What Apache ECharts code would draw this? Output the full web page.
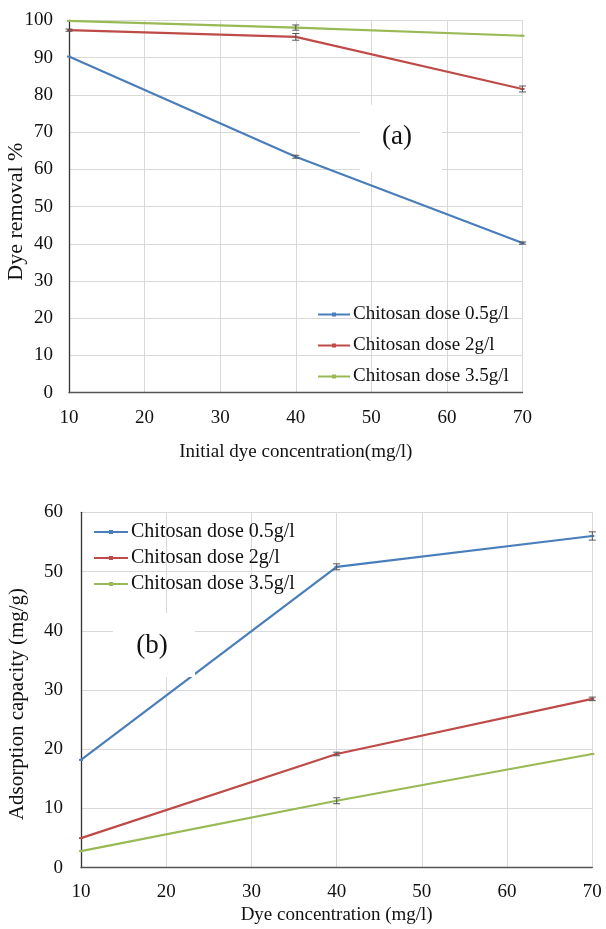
<!DOCTYPE html>
<html>
<head>
<meta charset="utf-8">
<script src="https://cdn.jsdelivr.net/npm/echarts@6/dist/echarts.min.js"></script>
<style>
  html, body { margin: 0; padding: 0; background: #fff; }
  #chart { width: 606px; height: 929px; }
</style>
</head>
<body>
<div id="chart"></div>
<script>
// Dye concentrations (mg/l) shared by both panels
var concentrations = [10, 40, 70];
var seriesNames = ['Chitosan dose 0.5g/l', 'Chitosan dose 2g/l', 'Chitosan dose 3.5g/l'];

// Panel (a): dye removal %
var removalDose05 = [90.3, 63.4, 40.2];
var removalDose2 = [97.4, 95.6, 81.6];
var removalDose35 = [99.9, 98.1, 95.9];
var removalErr05 = [0, 0.4, 0.3];
var removalErr2 = [0.3, 0.9, 0.8];
var removalErr35 = [0, 0.7, 0];

// Panel (b): adsorption capacity (mg/g)
var capacityDose05 = [18.2, 50.8, 56.0];
var capacityDose2 = [5.0, 19.2, 28.5];
var capacityDose35 = [2.8, 11.3, 19.2];
var capacityErr05 = [0, 0.5, 0.7];
var capacityErr2 = [0, 0.3, 0.3];
var capacityErr35 = [0, 0.5, 0];

var xTicksA = { min: 10, max: 70, interval: 10 };
var yTicksA = { min: 0, max: 100, interval: 10 };
var xTicksB = { min: 10, max: 70, interval: 10 };
var yTicksB = { min: 0, max: 60, interval: 10 };

var colors = ['#4a7ebb', '#be4b48', '#98b954'];
var serif = 'Liberation Serif, Times New Roman, serif';

function pairs(values) {
  return concentrations.map(function (x, i) { return [x, values[i]]; });
}
function errPairs(values, errs) {
  return concentrations.map(function (x, i) { return [x, values[i], errs[i]]; });
}

function lineSeries(name, values, gridIndex, color) {
  return {
    name: name,
    type: 'line',
    xAxisIndex: gridIndex,
    yAxisIndex: gridIndex,
    data: pairs(values),
    symbol: 'rect',
    symbolSize: [4, 2],
    lineStyle: { width: 2.2, color: color },
    itemStyle: { color: color },
    z: 3,
    animation: false
  };
}

// Error bars with small caps
function errorSeries(values, errs, gridIndex) {
  return {
    type: 'custom',
    name: 'error' + gridIndex,
    xAxisIndex: gridIndex,
    yAxisIndex: gridIndex,
    data: errPairs(values, errs),
    z: 4,
    silent: true,
    animation: false,
    renderItem: function (params, api) {
      var e = api.value(2);
      if (!e) return null;
      var x = api.value(0), y = api.value(1);
      var hi = api.coord([x, y + e]);
      var lo = api.coord([x, y - e]);
      var cap = 3.5;
      var style = { stroke: '#555', lineWidth: 1 };
      return {
        type: 'group',
        children: [
          { type: 'line', shape: { x1: hi[0], y1: hi[1], x2: lo[0], y2: lo[1] }, style: style },
          { type: 'line', shape: { x1: hi[0] - cap, y1: hi[1], x2: hi[0] + cap, y2: hi[1] }, style: style },
          { type: 'line', shape: { x1: lo[0] - cap, y1: lo[1], x2: lo[0] + cap, y2: lo[1] }, style: style }
        ]
      };
    }
  };
}

function xAxis(gridIndex, ticks, name, nameGap, labelMargin) {
  return {
    type: 'value',
    gridIndex: gridIndex,
    min: ticks.min, max: ticks.max, interval: ticks.interval,
    name: name,
    nameLocation: 'middle',
    nameGap: nameGap,
    nameMoveOverlap: false,
    nameTextStyle: { fontFamily: serif, fontSize: 19, color: '#111' },
    axisLine: { show: true, onZero: false, lineStyle: { color: '#555', width: 1.3 } },
    axisTick: { show: false },
    axisLabel: { fontFamily: serif, fontSize: 19, color: '#111', margin: labelMargin },
    splitLine: { show: true, lineStyle: { color: '#d9d9d9', width: 1 } }
  };
}

function yAxis(gridIndex, ticks, name, nameGap, labelMargin, nameSize, namePad) {
  return {
    type: 'value',
    gridIndex: gridIndex,
    min: ticks.min, max: ticks.max, interval: ticks.interval,
    name: name,
    nameLocation: 'middle',
    nameGap: nameGap,
    nameMoveOverlap: false,
    nameTextStyle: { fontFamily: serif, fontSize: nameSize, color: '#111', padding: [0, namePad, 0, 0] },
    axisLine: { show: true, lineStyle: { color: '#333', width: 1.3 } },
    axisTick: { show: false },
    axisLabel: { fontFamily: serif, fontSize: 19, color: '#111', margin: labelMargin },
    splitLine: { show: true, lineStyle: { color: '#d9d9d9', width: 1 } }
  };
}

var chart = echarts.init(document.getElementById('chart'), null, { renderer: 'canvas' });

chart.setOption({
  backgroundColor: '#fff',
  animation: false,
  grid: [
    { left: 69, right: 83.5, top: 20.5, height: 372.2, outerBoundsMode: 'none', containLabel: false },
    { left: 81, right: 13.7, top: 512.3, height: 355.4, outerBoundsMode: 'none', containLabel: false }
  ],
  xAxis: [
    xAxis(0, xTicksA, 'Initial dye concentration(mg/l)', 50, 16),
    xAxis(1, xTicksB, 'Dye concentration (mg/l)', 38, 15)
  ],
  yAxis: [
    yAxis(0, yTicksA, 'Dye removal %', 42, 16, 22, 10),
    yAxis(1, yTicksB, 'Adsorption capacity (mg/g)', 53, 18, 21, 28)
  ],
  legend: [
    {
      data: seriesNames,
      orient: 'vertical',
      left: 312,
      top: 300,
      itemWidth: 32,
      itemHeight: 5,
      itemGap: 12,
      textStyle: { fontFamily: serif, fontSize: 19, color: '#111', padding: [0, 0, 0, -2] },
      selectedMode: false
    },
    {
      data: seriesNames,
      orient: 'vertical',
      left: 88,
      top: 517,
      itemWidth: 34,
      itemHeight: 5,
      itemGap: 6,
      textStyle: { fontFamily: serif, fontSize: 20, color: '#111', padding: [0, 0, 0, -2] },
      selectedMode: false
    }
  ],
  graphic: [
    { type: 'rect', z: 100, shape: { x: 360, y: 105, width: 82, height: 67 }, style: { fill: '#fff' } },
    { type: 'text', z: 101, x: 397, y: 137, style: { text: '(a)', fontFamily: serif, fontSize: 27, fill: '#111', align: 'center', verticalAlign: 'middle' } },
    { type: 'rect', z: 100, shape: { x: 113, y: 613, width: 82, height: 64 }, style: { fill: '#fff' } },
    { type: 'text', z: 101, x: 152, y: 646, style: { text: '(b)', fontFamily: serif, fontSize: 27, fill: '#111', align: 'center', verticalAlign: 'middle' } }
  ],
  series: [
    lineSeries(seriesNames[0], removalDose05, 0, colors[0]),
    lineSeries(seriesNames[1], removalDose2, 0, colors[1]),
    lineSeries(seriesNames[2], removalDose35, 0, colors[2]),
    errorSeries(removalDose05, removalErr05, 0),
    errorSeries(removalDose2, removalErr2, 0),
    errorSeries(removalDose35, removalErr35, 0),
    lineSeries(seriesNames[0], capacityDose05, 1, colors[0]),
    lineSeries(seriesNames[1], capacityDose2, 1, colors[1]),
    lineSeries(seriesNames[2], capacityDose35, 1, colors[2]),
    errorSeries(capacityDose05, capacityErr05, 1),
    errorSeries(capacityDose2, capacityErr2, 1),
    errorSeries(capacityDose35, capacityErr35, 1)
  ]
});
</script>
</body>
</html>
